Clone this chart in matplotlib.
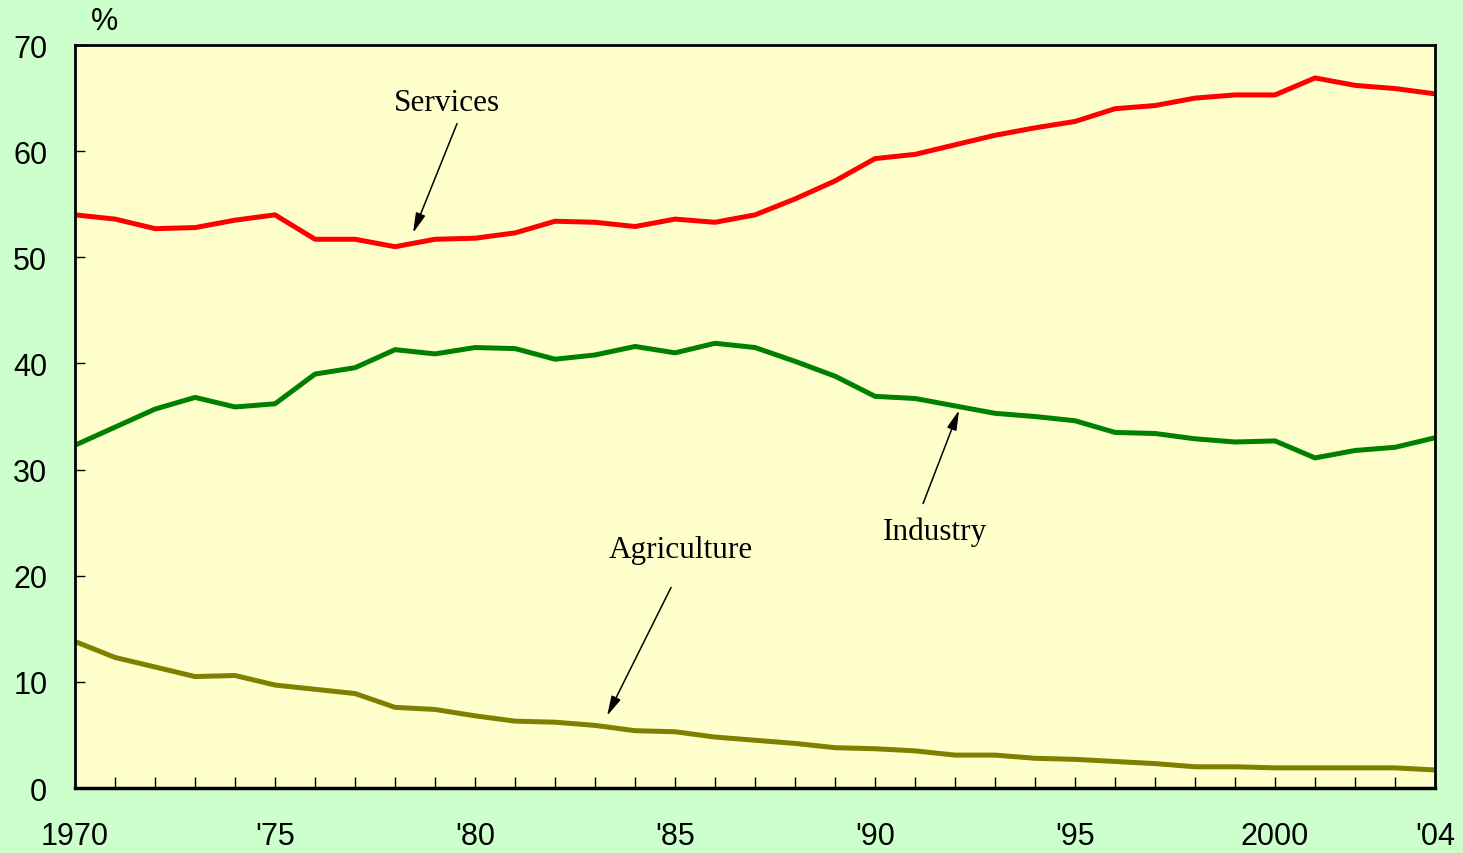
import numpy as np
import matplotlib
matplotlib.use("Agg")
import matplotlib.pyplot as plt


years = list(range(1970, 2005))

services = [54.0, 53.6, 52.7, 52.8, 53.5, 54.0, 51.7, 51.7, 51.0, 51.7,
            51.8, 52.3, 53.4, 53.3, 52.9, 53.6, 53.3, 54.0, 55.5, 57.2,
            59.3, 59.7, 60.6, 61.5, 62.2, 62.8, 64.0, 64.3, 65.0, 65.3,
            65.3, 66.9, 66.2, 65.9, 65.4]

industry = [32.3, 34.0, 35.7, 36.8, 35.9, 36.2, 39.0, 39.6, 41.3, 40.9,
            41.5, 41.4, 40.4, 40.8, 41.6, 41.0, 41.9, 41.5, 40.2, 38.8,
            36.9, 36.7, 36.0, 35.3, 35.0, 34.6, 33.5, 33.4, 32.9, 32.6,
            32.7, 31.1, 31.8, 32.1, 33.0]

agriculture = [13.8, 12.3, 11.4, 10.5, 10.6, 9.7, 9.3, 8.9, 7.6, 7.4,
               6.8, 6.3, 6.2, 5.9, 5.4, 5.3, 4.8, 4.5, 4.2, 3.8,
               3.7, 3.5, 3.1, 3.1, 2.8, 2.7, 2.5, 2.3, 2.0, 2.0,
               1.9, 1.9, 1.9, 1.9, 1.7]

tick_years = [1970, 1975, 1980, 1985, 1990, 1995, 2000, 2004]
tick_labels = ["1970", "'75", "'80", "'85", "'90", "'95", "2000", "'04"]
y_ticks = [0, 10, 20, 30, 40, 50, 60, 70]

# label text, text position, arrow tail, arrow tip
notes = [
    ("Services", (1979.3, 64.6), (1979.55, 62.6), (1978.45, 52.3)),
    ("Industry", (1991.5, 24.2), (1991.2, 26.8), (1992.1, 35.6)),
    ("Agriculture", (1985.15, 22.5), (1984.9, 18.9), (1983.3, 6.8)),
]


def main():
    plt.rcParams['font.family'] = ['Liberation Sans', 'DejaVu Sans']

    fig = plt.figure(figsize=(14.63, 8.54), dpi=100, facecolor="#CCFFCC")
    ax = fig.add_axes([0.0513, 0.0761, 0.9296, 0.87])
    ax.set_facecolor("#FFFFCC")

    ax.plot(years, services, color="#FF0000", lw=3.6, solid_joinstyle="round")
    ax.plot(years, industry, color="#008000", lw=3.6, solid_joinstyle="round")
    ax.plot(years, agriculture, color="#808000", lw=3.6, solid_joinstyle="round")

    ax.set_xlim(1970, 2004)
    ax.set_ylim(0, 70)

    ax.set_xticks(tick_years)
    ax.set_xticklabels(tick_labels)
    ax.set_xticks(years, minor=True)
    ax.set_yticks(y_ticks)

    ax.tick_params(axis="x", which="both", direction="in", length=8,
                   width=1, top=False, labelsize=22, pad=24)
    ax.tick_params(axis="y", direction="in", length=7, width=1,
                   right=False, labelsize=22, pad=20)

    for sp in ax.spines.values():
        sp.set_linewidth(2)
        sp.set_color("black")
    ax.spines["bottom"].set_linewidth(2.5)

    ax.text(0.022, 1.032, "%", transform=ax.transAxes, ha="center",
            va="center", fontsize=22)

    for label, txt_pos, tail, tip in notes:
        ax.text(txt_pos[0], txt_pos[1], label, ha="center", va="center",
                fontsize=22.5, family=["Liberation Serif", "DejaVu Serif"])
        ax.annotate("", xy=tip, xytext=tail,
                    arrowprops=dict(arrowstyle="-|>,head_length=1.2,head_width=0.3",
                                    color="black", lw=1.1, shrinkA=0, shrinkB=0))

    fig.savefig("out.png", dpi=100, facecolor=fig.get_facecolor())


if __name__ == '__main__':
    main()
